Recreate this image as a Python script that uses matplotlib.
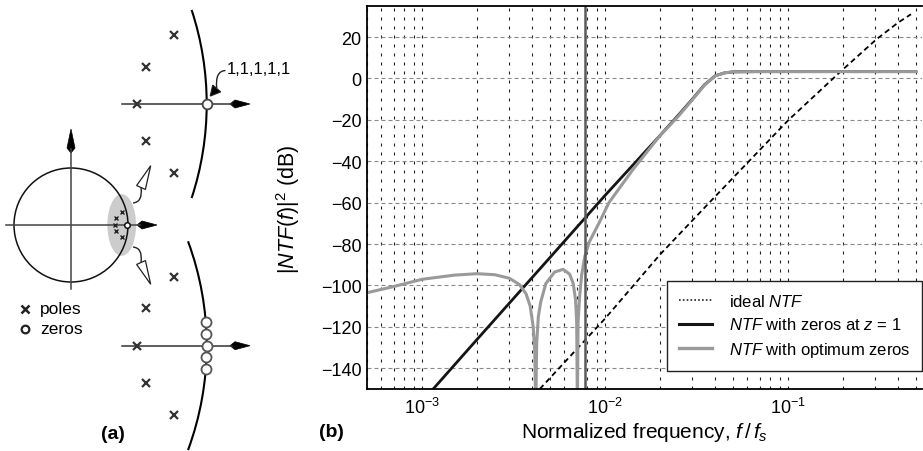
import matplotlib
matplotlib.use("Agg")
import matplotlib.pyplot as plt
from matplotlib.patches import Circle, Ellipse, Arc, Polygon, PathPatch
from matplotlib.path import Path
from matplotlib.lines import Line2D
from matplotlib.ticker import LogLocator, NullFormatter
import numpy as np

plt.rcParams['font.family'] = ['Liberation Sans', 'DejaVu Sans']
plt.rcParams['mathtext.fontset'] = 'custom'
plt.rcParams['mathtext.rm'] = 'Liberation Sans'
plt.rcParams['mathtext.it'] = 'Liberation Sans:italic'
plt.rcParams['mathtext.bf'] = 'Liberation Sans:bold'

# ---- (b) data ----
freq_ideal = [0.0044, 0.01, 0.02, 0.04, 0.1, 0.192, 0.305, 0.4, 0.47]
db_ideal = [-150, -116, -85, -57, -20.3, 3, 19, 27, 31]

freq_z1 = [0.00115, 0.002, 0.005, 0.01, 0.02, 0.025, 0.03, 0.035, 0.04, 0.045,
           0.05, 0.07, 0.5]
db_z1 = [-150, -126, -86.5, -56.5, -27.5, -18, -10, -3, 1.3, 2.7,
         3.2, 3.3, 3.3]

freq_opt = [5e-4, 7e-4, 1e-3, 1.5e-3, 2e-3, 2.5e-3, 3e-3, 3.4e-3, 3.7e-3, 3.9e-3,
            4.05e-3, 4.13e-3, 4.18e-3, 4.23e-3, 4.32e-3, 4.45e-3, 4.75e-3, 5.3e-3,
            5.9e-3, 6.4e-3, 6.7e-3, 6.9e-3, 7.0e-3, 7.06e-3, 7.12e-3, 7.25e-3,
            7.45e-3, 7.75e-3, 8.2e-3, 9.3e-3, 0.0105, 0.0142, 0.0198, 0.025, 0.03,
            0.035, 0.04, 0.045, 0.05, 0.07, 0.5]
db_opt = [-103.5, -100.5, -97, -95, -94.3, -94.8, -96.5, -99.5, -104, -110,
          -120, -132, -160, -128, -115, -108, -99, -93.5,
          -92.2, -94.5, -99, -107, -118, -160, -118, -106,
          -95, -86, -79, -69.6, -60, -44, -28, -18.5, -10.3,
          -3.2, 1.2, 2.7, 3.2, 3.3, 3.3]

f_band = 1 / 128
y_ticks = [20, 0, -20, -40, -60, -80, -100, -120, -140]

# ---- (a) schematic pole/zero positions (pixel units of the sketch) ----
small_pole_x = [121.7, 116, 115, 116, 121.7]
small_pole_y = [213.3, 219, 225.7, 232.3, 238.3]
big_pole_dx = [-32.7, -61, -70, -61, -32.7]
big_pole_dy = [-69, -37.3, 0, 37.3, 69]
opt_zero_dy = [-23.4, -11.7, 0, 11.7, 23.4]

fig = plt.figure(figsize=(9.23, 4.52), dpi=100)

# ---------------- part (a) ----------------
sk = fig.add_axes([0, 0, 1, 1])
sk.set_xlim(0, 923)
sk.set_ylim(452, 0)
sk.axis('off')


def kite(x, y, dx, dy, length=20, half=4):
    # filled arrow head, tip at (x, y), pointing along (dx, dy)
    ux, uy = dx, dy
    px, py = -uy, ux
    back = (x - ux * length, y - uy * length)
    wide = (x - ux * (length - 5), y - uy * (length - 5))
    pts = [(x, y), (wide[0] + px * half, wide[1] + py * half), back,
           (wide[0] - px * half, wide[1] - py * half)]
    sk.add_patch(Polygon(pts, closed=True, fc='black', ec='black', lw=0.5))


def curved(p0, c, p1, lw=1.0):
    path = Path([p0, c, p1], [Path.MOVETO, Path.CURVE3, Path.CURVE3])
    sk.add_patch(PathPatch(path, fc='none', ec='#222', lw=lw))


def head(base, tip, half, fill):
    bx, by = base
    tx, ty = tip
    L = np.hypot(tx - bx, ty - by)
    px, py = -(ty - by) / L, (tx - bx) / L
    pts = [tip, (bx + px * half, by + py * half), (bx - px * half, by - py * half)]
    sk.add_patch(Polygon(pts, closed=True, fc=fill, ec='#222', lw=0.9))


# unit circle view
cx, cy, r = 71, 226, 57
sk.add_patch(Ellipse((121.7, 226), 28.7, 61.7, fc='#cccccc', ec='none'))
sk.add_patch(Circle((cx, cy), r, fill=False, ec='#111', lw=1.1))
sk.plot([6, 140], [cy, cy], color='#444', lw=1.1)
kite(157, cy, 1, 0)
sk.plot([cx, cx], [290, 150], color='#444', lw=1.1)
kite(cx, 130, 0, -1, length=24)
sk.plot(small_pole_x, small_pole_y, ls='none', marker='x', ms=3.4, mew=1.0,
        color='#222')
sk.plot([126.7], [226], ls='none', marker='o', ms=4, mew=1.1, mfc='white',
        mec='#111')

# hollow zoom arrows
curved((133, 204), (143, 203), (141, 188.5))
head((141, 188.5), (150.7, 166.7), 4.8, 'white')
curved((133, 248), (143, 249), (141, 263.5))
head((141, 263.5), (150.7, 285.3), 4.8, 'white')

# zoomed views of z = 1
R = 301
for ycen, span in [(105, 18.2), (346.7, 20.3)]:
    xcen = 206.7 - R
    sk.add_patch(Arc((xcen, ycen), 2 * R, 2 * R, theta1=-span, theta2=span,
                     color='black', lw=1.5))
    sk.plot([121.7, 232], [ycen, ycen], color='#333', lw=1.1)
    kite(250, ycen, 1, 0)
    sk.plot([206.7 + dx for dx in big_pole_dx], [ycen + dy for dy in big_pole_dy],
            ls='none', marker='x', ms=6, mew=1.6, color='#333')

sk.plot([206.7], [105], ls='none', marker='o', ms=7, mew=1.3, mfc='white',
        mec='#444')
zx = [206.7 - R + np.sqrt(R ** 2 - d ** 2) for d in opt_zero_dy]
sk.plot(zx, [346.7 + d for d in opt_zero_dy], ls='none', marker='o', ms=7.2,
        mew=1.3, mfc='white', mec='#555')

# 1,1,1,1,1 callout
sk.text(227, 70, '1,1,1,1,1', fontsize=12, va='center', ha='left')
curved((225.5, 71.5), (215, 72), (216.7, 89))
head((216.7, 89.5), (210.3, 97), 5.2, 'black')

# pole/zero key
sk.plot([25], [310], ls='none', marker='x', ms=5.5, mew=1.8, color='#222')
sk.plot([25], [330], ls='none', marker='o', ms=5.5, mew=1.6, mfc='white',
        mec='#222')
sk.text(40, 310, 'poles', fontsize=12.5, va='center')
sk.text(40, 330, 'zeros', fontsize=12.5, va='center')
sk.text(113, 435, '(a)', fontsize=14, fontweight='bold', ha='center', va='center')
sk.text(331, 433, '(b)', fontsize=14, fontweight='bold', ha='center', va='center')

# ---------------- part (b) ----------------
ax = fig.add_axes([367 / 923, 62 / 452, 555 / 923, 383 / 452])
ax.set_xscale('log')
ax.plot(freq_ideal, db_ideal, color='black', lw=1.3, dashes=(3, 2))
ax.plot(freq_z1, db_z1, color='#151515', lw=2.0)
ax.plot(freq_opt, db_opt, color='#9a9a9a', lw=2.2)
ax.axvline(f_band, color='#5a5a5a', lw=1.8)

ax.set_xlim(5e-4, 0.54)
ax.set_ylim(-150, 35)
ax.set_yticks(y_ticks)
ax.xaxis.set_major_locator(LogLocator(base=10))
ax.xaxis.set_minor_locator(LogLocator(base=10, subs=np.arange(2, 10)))
ax.xaxis.set_minor_formatter(NullFormatter())
ax.grid(True, axis='x', which='both', color='#222', lw=0.8, ls=(0, (2.7, 5.4)))
ax.grid(True, axis='y', which='major', color='#888', lw=0.8, ls=(0, (3.6, 2.7)))
ax.set_axisbelow(True)
ax.tick_params(which='both', length=0, labelsize=13)
ax.tick_params(axis='x', pad=6)
ax.tick_params(axis='y', pad=4)
for s in ['left', 'bottom', 'top']:
    ax.spines[s].set_linewidth(1.3)
ax.spines['right'].set_visible(False)

ax.set_xlabel(r'Normalized frequency, $f\,/\,f_s$', fontsize=15, va='center')
ax.set_ylabel(r'|$NTF(f)$|$^2$ (dB)', fontsize=15.5)
ax.yaxis.set_label_coords(-0.117, 0.473)
ax.xaxis.set_label_coords(0.5, -0.112)

handles = [Line2D([], [], color='#222', lw=1.2, ls=(0, (1, 1.3))),
           Line2D([], [], color='#151515', lw=2.2),
           Line2D([], [], color='#9a9a9a', lw=2.4)]
labels = [r'ideal $NTF$', r'$NTF$ with zeros at $z$ = 1', r'$NTF$ with optimum zeros']
leg = ax.legend(handles, labels, loc='lower right', bbox_to_anchor=(1.0, 0.048),
                borderaxespad=0, fontsize=12, fancybox=False, framealpha=1,
                edgecolor='#222', handlelength=2.0, handletextpad=1.0,
                labelspacing=0.45, borderpad=0.7)
leg.get_frame().set_linewidth(1.0)

fig.savefig('out.png', dpi=100)
